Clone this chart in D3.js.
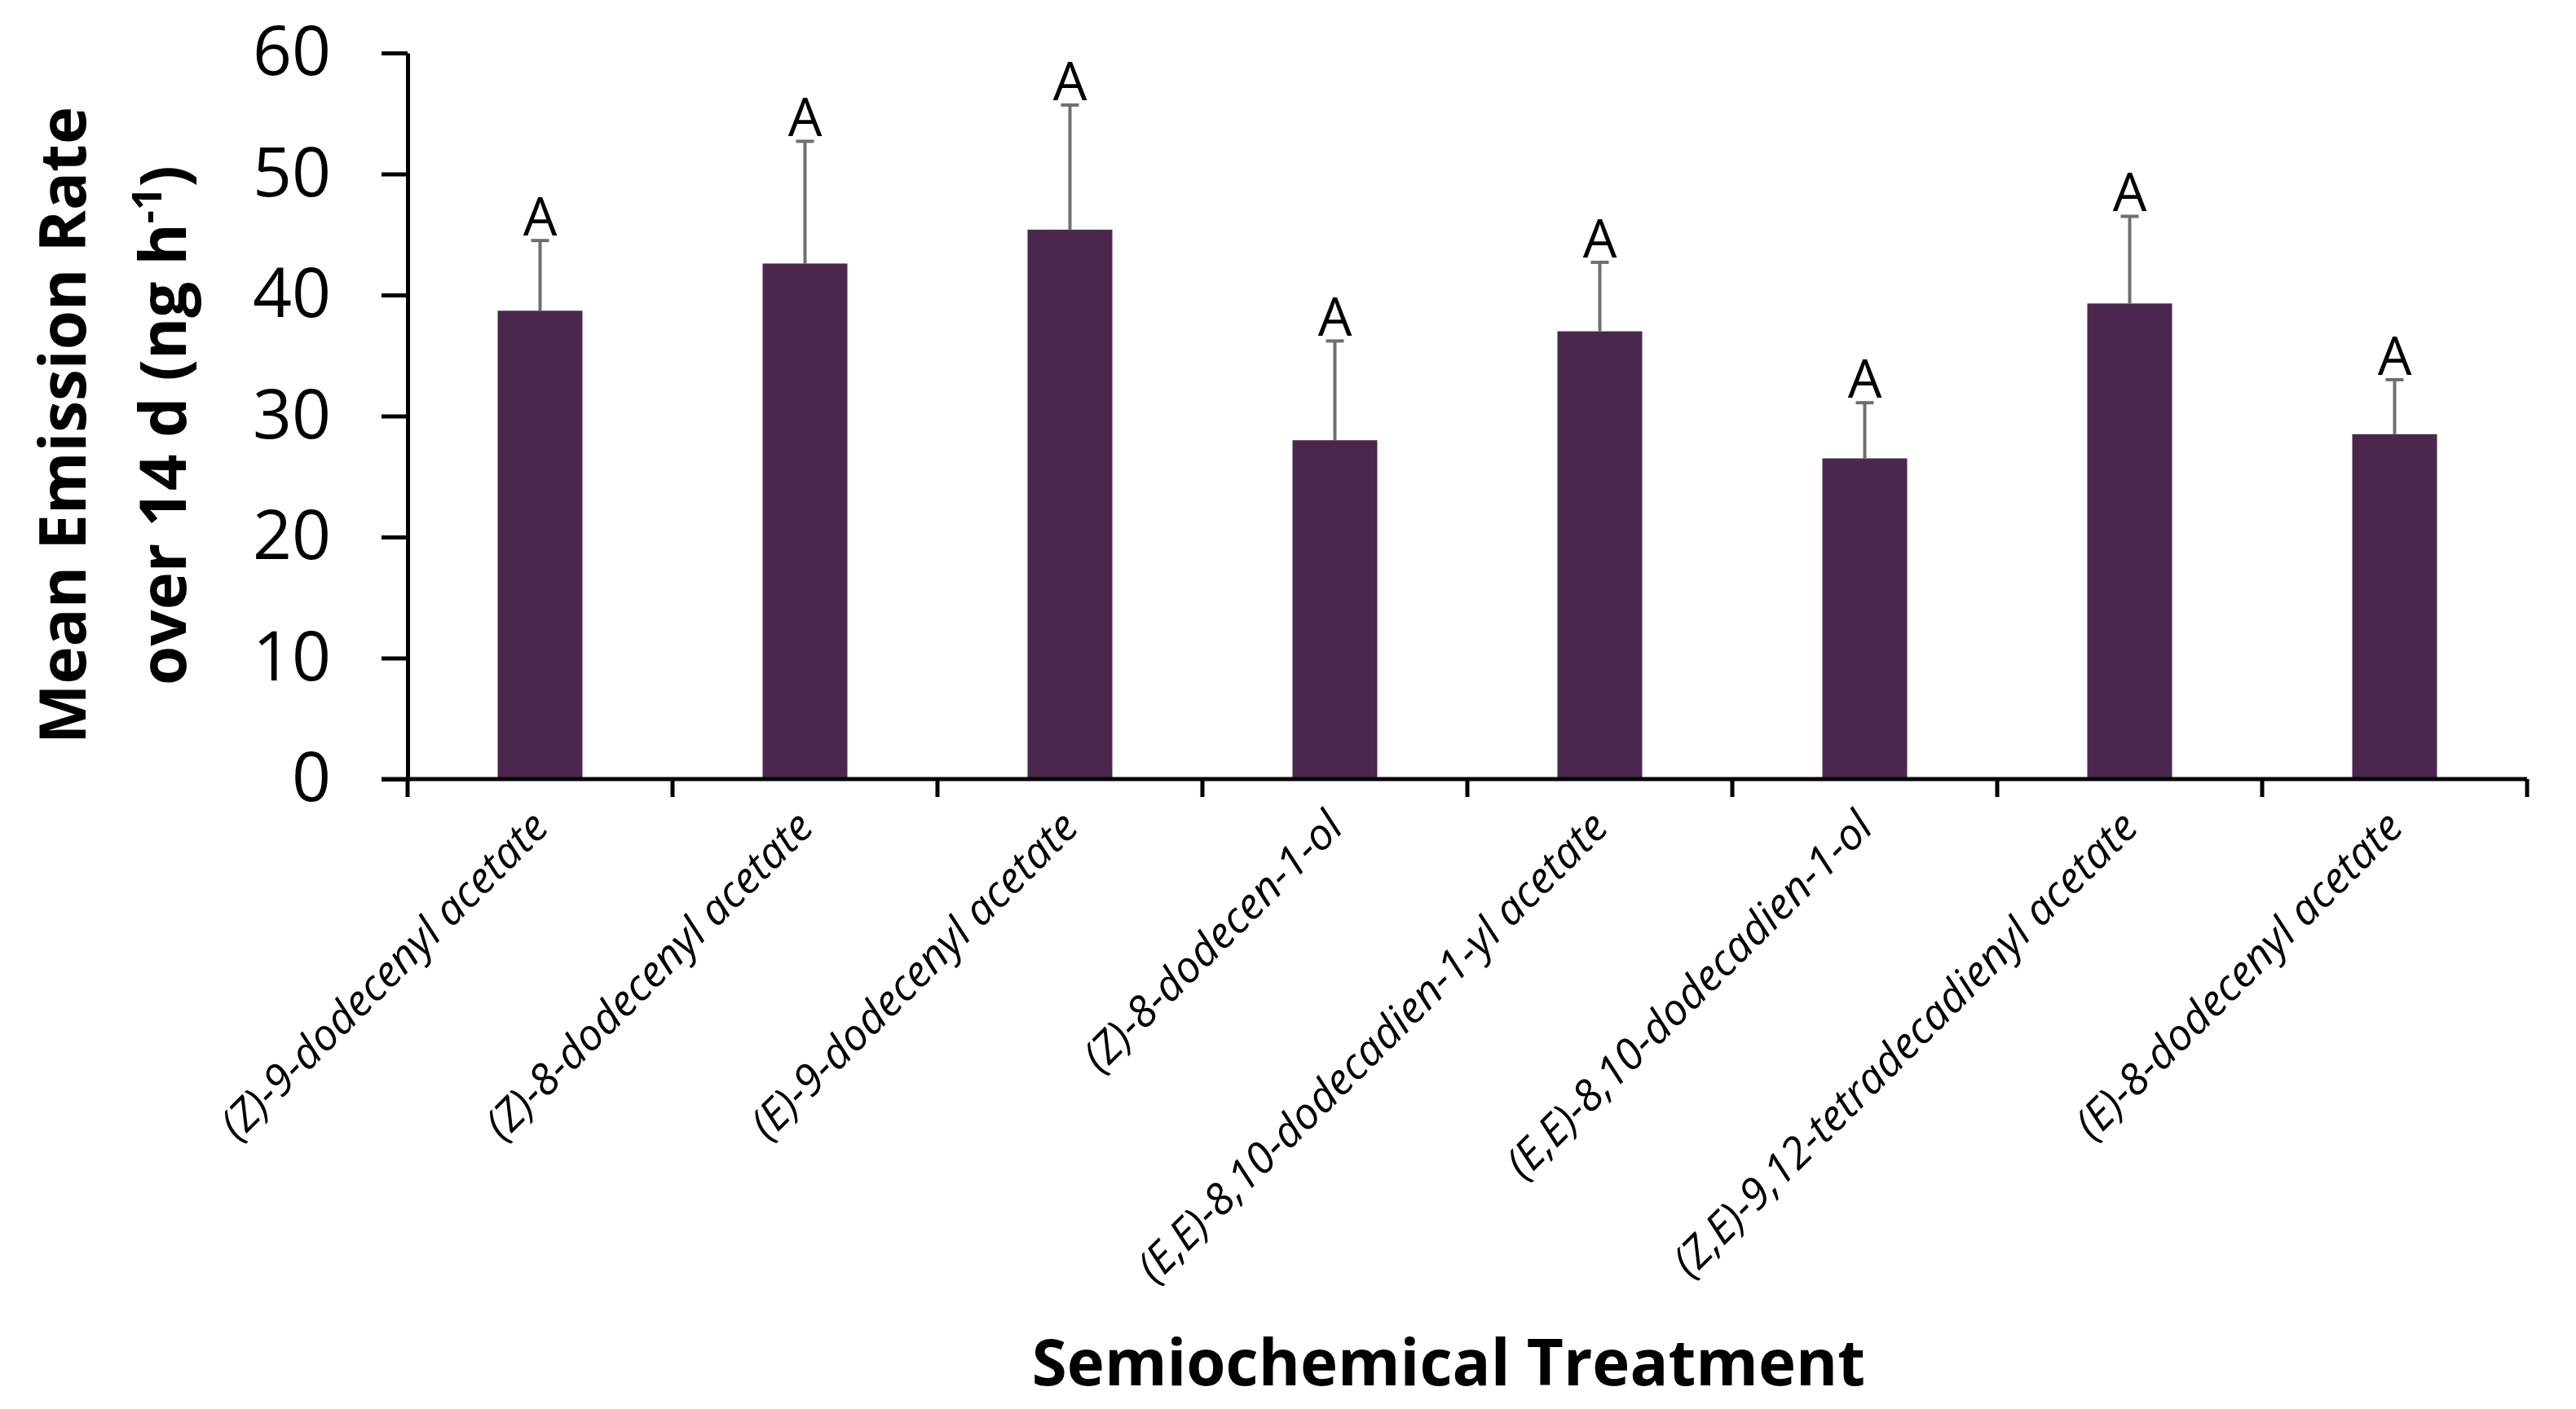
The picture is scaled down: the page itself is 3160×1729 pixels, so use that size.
<!DOCTYPE html>
<html>
<head>
<meta charset="utf-8">
<script src="https://cdn.jsdelivr.net/npm/d3@7"></script>
<style>
  html, body { margin: 0; padding: 0; background: #fff; }
  svg { display: block; }
  .axis path, .axis line { stroke: #000; stroke-width: 5; }
  .ytick text { font-family: "Open Sans", sans-serif; font-size: 84px; fill: #000; }
  .xlab text { font-family: "Open Sans", sans-serif; font-style: italic; font-size: 53px; fill: #000; }
  .title { font-family: "Open Sans", sans-serif; font-weight: bold; fill: #000; }
  .letter { font-family: "Open Sans", sans-serif; font-size: 66px; fill: #000; }
</style>
</head>
<body>
<div id="chart"></div>
<script>
var width = 3160;
var height = 1729;

var treatments = [
  '(Z)-9-dodecenyl acetate',
  '(Z)-8-dodecenyl acetate',
  '(E)-9-dodecenyl acetate',
  '(Z)-8-dodecen-1-ol',
  '(E,E)-8,10-dodecadien-1-yl acetate',
  '(E,E)-8,10-dodecadien-1-ol',
  '(Z,E)-9,12-tetradecadienyl acetate',
  '(E)-8-dodecenyl acetate'
];
var means = [38.7, 42.6, 45.4, 28.0, 37.0, 26.5, 39.3, 28.5];
var errors = [5.8, 10.1, 10.3, 8.2, 5.7, 4.6, 7.2, 4.5];
var letters = ['A', 'A', 'A', 'A', 'A', 'A', 'A', 'A'];
var yTicks = [0, 10, 20, 30, 40, 50, 60];

var margin = { left: 500, right: 60, top: 65, bottom: 773 };

var svg = d3.select('#chart').append('svg')
  .attr('width', width)
  .attr('height', height);

var x = d3.scaleBand()
  .domain(treatments)
  .range([margin.left, width - margin.right])
  .paddingInner(0)
  .paddingOuter(0);

var y = d3.scaleLinear()
  .domain([0, 60])
  .range([height - margin.bottom, margin.top]);

var barW = x.bandwidth() * 0.32;

// bars
svg.append('g').selectAll('rect.bar').data(treatments)
  .enter().append('rect')
  .attr('class', 'bar')
  .attr('x', function(d) { return x(d) + x.bandwidth() / 2 - barW / 2; })
  .attr('y', function(d, i) { return y(means[i]); })
  .attr('width', barW)
  .attr('height', function(d, i) { return y(0) - y(means[i]); })
  .attr('fill', '#4b274e');

// error bars (upper only)
var err = svg.append('g');
err.selectAll('line.err').data(treatments)
  .enter().append('line')
  .attr('x1', function(d) { return x(d) + x.bandwidth() / 2; })
  .attr('x2', function(d) { return x(d) + x.bandwidth() / 2; })
  .attr('y1', function(d, i) { return y(means[i]); })
  .attr('y2', function(d, i) { return y(means[i] + errors[i]); })
  .attr('stroke', '#6e6e6e')
  .attr('stroke-width', 4);
err.selectAll('line.cap').data(treatments)
  .enter().append('line')
  .attr('x1', function(d) { return x(d) + x.bandwidth() / 2 - 11; })
  .attr('x2', function(d) { return x(d) + x.bandwidth() / 2 + 11; })
  .attr('y1', function(d, i) { return y(means[i] + errors[i]); })
  .attr('y2', function(d, i) { return y(means[i] + errors[i]); })
  .attr('stroke', '#6e6e6e')
  .attr('stroke-width', 4);

// significance letters
svg.append('g').selectAll('text.letter').data(treatments)
  .enter().append('text')
  .attr('class', 'letter')
  .attr('x', function(d) { return x(d) + x.bandwidth() / 2; })
  .attr('y', function(d, i) { return y(means[i] + errors[i]) - 6; })
  .attr('text-anchor', 'middle')
  .text(function(d, i) { return letters[i]; });

// y axis
svg.append('g')
  .attr('class', 'axis ytick')
  .attr('transform', 'translate(' + margin.left + ',0)')
  .call(d3.axisLeft(y).tickValues(yTicks).tickSize(32).tickPadding(62).tickSizeOuter(0));

// x axis: baseline + ticks at category boundaries
var xAxis = svg.append('g')
  .attr('class', 'axis')
  .attr('transform', 'translate(0,' + y(0) + ')');
xAxis.append('line')
  .attr('x1', margin.left - 32).attr('x2', width - margin.right)
  .attr('y1', 0).attr('y2', 0);
var bounds = treatments.map(function(d) { return x(d); }).concat([x.range()[1]]);
xAxis.selectAll('line.tick').data(bounds)
  .enter().append('line')
  .attr('x1', function(d) { return d; })
  .attr('x2', function(d) { return d; })
  .attr('y1', 0).attr('y2', 22);

// category labels
svg.append('g')
  .attr('class', 'xlab')
  .attr('transform', 'translate(0,' + y(0) + ')')
  .call(d3.axisBottom(x).tickSize(0).tickPadding(0))
  .call(function(g) { g.select('.domain').remove(); })
  .selectAll('text')
  .attr('text-anchor', 'end')
  .attr('dy', null)
  .attr('transform', 'translate(' + (x.bandwidth() * 0.04) + ',62) rotate(-45)');

// axis titles
var yTitle = svg.append('text')
  .attr('class', 'title')
  .attr('transform', 'translate(0,522) rotate(-90)')
  .attr('text-anchor', 'middle')
  .style('font-size', '78px');
yTitle.append('tspan').attr('x', 0).attr('y', 105).text('Mean Emission Rate');
var l2 = yTitle.append('tspan').attr('x', 0).attr('y', 228);
l2.append('tspan').text('over 14 d (ng h');
l2.append('tspan').attr('dy', -30).style('font-size', '50px').text('-1');
l2.append('tspan').attr('dy', 30).text(')');

svg.append('text')
  .attr('class', 'title')
  .attr('x', 1777)
  .attr('y', 1700)
  .attr('text-anchor', 'middle')
  .style('font-size', '78px')
  .text('Semiochemical Treatment');
</script>
</body>
</html>
